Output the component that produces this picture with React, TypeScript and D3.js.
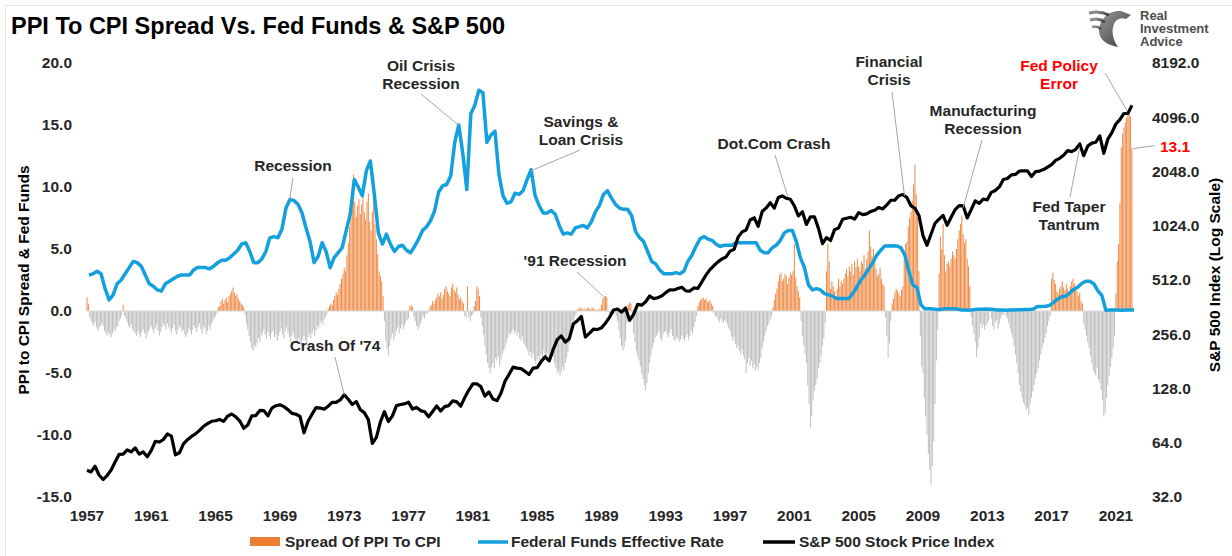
import React from "react";
import * as d3 from "d3";

// ---------------- DATA ----------------
const xTickYears = [1957, 1961, 1965, 1969, 1973, 1977, 1981, 1985, 1989, 1993, 1997, 2001, 2005, 2009, 2013, 2017, 2021];
const leftTicks = [20, 15, 10, 5, 0, -5, -10, -15];
const rightTicks = [8192, 4096, 2048, 1024, 512, 256, 128, 64, 32];

// Spread of PPI to CPI (YoY, %), monthly from Jan 1957
const spreadRows: number[][] = [
  [1.1, 0.6, -0.5, -0.8, -1.0, -1.2, -0.9, -1.3, -1.6, -1.4, -1.2, -1.0],
  [-1.2, -1.6, -1.8, -2.0, -1.7, -1.9, -2.1, -1.8, -1.5, -1.7, -1.3, -1.2],
  [-0.8, -0.6, -0.3, 0.5, -0.4, -0.6, -0.9, -1.2, -1.4, -1.1, -1.5, -1.7],
  [-1.8, -2.0, -1.6, -1.9, -2.1, -1.7, -1.5, -1.8, -2.2, -1.9, -1.6, -1.4],
  [-1.2, -1.5, -1.8, -1.4, -1.1, -1.6, -2.0, -1.7, -1.3, -1.0, -1.2, -1.5],
  [-1.0, -1.3, -1.5, -1.8, -1.4, -1.1, -1.6, -1.9, -1.5, -1.2, -1.4, -1.7],
  [-1.5, -1.9, -2.1, -1.8, -1.4, -1.6, -1.9, -1.5, -1.2, -1.4, -1.7, -1.3],
  [-1.0, -1.5, -1.8, -1.2, -1.4, -1.9, -1.6, -1.2, -1.5, -1.0, -0.8, -0.6],
  [-0.4, -0.2, 0.3, 0.4, 0.8, 1.0, 0.6, 0.9, 1.1, 0.7, 1.2, 1.4],
  [1.6, 1.9, 1.5, 1.2, 1.4, 1.0, 0.8, 0.6, 0.5, 0.3, -0.3, -1.0],
  [-1.5, -2.0, -2.5, -3.0, -3.2, -2.8, -2.9, -2.6, -2.2, -2.5, -2.0, -1.8],
  [-1.5, -1.9, -2.2, -1.7, -2.0, -2.3, -1.8, -1.6, -2.1, -1.9, -2.4, -2.0],
  [-1.7, -1.4, -1.9, -2.2, -1.6, -1.3, -1.8, -2.1, -2.5, -2.0, -1.7, -2.2],
  [-2.4, -2.7, -2.2, -2.5, -2.8, -2.3, -2.0, -2.4, -2.6, -2.1, -1.8, -2.2],
  [-1.8, -1.5, -2.0, -1.6, -1.2, -1.4, -1.0, -0.8, -1.1, -0.7, -0.5, -0.3],
  [0.2, 0.4, 0.6, 0.5, 0.9, 1.2, 1.5, 1.3, 1.8, 2.2, 2.6, 3.0],
  [3.5, 3.2, 4.5, 5.5, 6.8, 7.5, 8.2, 11.0, 8.8, 7.6, 8.5, 9.0],
  [7.8, 8.6, 9.2, 8.0, 7.4, 8.8, 9.5, 7.2, 6.5, 8.0, 11.0, 7.0],
  [5.8, 4.6, 3.2, 2.8, 2.4, 1.2, -0.8, -2.4, -3.0, -3.6, -2.8, -2.2],
  [-1.8, -2.4, -2.0, -1.6, -1.3, -1.8, -1.4, -1.1, -1.5, -1.2, -0.9, -0.7],
  [-0.6, 0.4, 0.5, 0.3, -0.5, -0.8, -1.2, -1.5, -1.3, -1.0, -0.7, -0.4],
  [-0.6, -0.3, -0.2, -0.1, 0.3, 0.5, 0.8, 0.6, 0.9, 1.1, 1.4, 1.2],
  [1.5, 1.0, 1.3, 1.8, 2.0, 1.6, 1.4, 1.2, 1.9, 2.2, 1.7, 1.5],
  [1.9, 1.3, 0.9, 1.1, 0.8, 0.6, -0.4, -0.6, 2.0, -0.5, -0.8, -0.4],
  [-0.3, 0.4, 0.8, 2.0, 1.8, 1.2, -0.5, -1.2, -1.9, -2.8, -3.5, -4.2],
  [-4.6, -5.0, -4.5, -4.2, -4.6, -3.8, -4.0, -3.6, -4.4, -3.9, -3.5, -3.2],
  [-3.0, -2.6, -2.2, -1.8, -1.9, -1.7, -1.5, -1.8, -1.6, -2.0, -1.7, -2.2],
  [-2.4, -2.0, -2.6, -2.8, -3.0, -3.2, -3.6, -3.3, -3.8, -3.4, -4.0, -4.3],
  [-3.9, -3.6, -4.1, -3.5, -3.8, -3.2, -3.6, -3.9, -3.4, -3.7, -3.2, -3.5],
  [-3.7, -4.2, -4.6, -5.0, -4.8, -5.2, -4.9, -4.5, -4.8, -4.2, -3.8, -3.3],
  [-2.6, -1.8, -1.2, -0.8, -0.5, -0.3, 0.1, 0.2, 0.3, 0.2, 0.1, 0.2],
  [0.1, 0.2, 0.3, 0.2, 0.1, 0.3, 0.2, 0.1, 0.1, -0.1, 0.2, 0.1],
  [0.5, 1.0, 1.2, 1.2, 1.1, -0.1, -0.2, -0.3, -0.2, -0.3, -0.2, -0.4],
  [-0.8, -1.5, -2.2, -2.8, -3.2, -2.9, -2.4, -1.0, 0.5, 0.7, 0.6, -0.5],
  [-1.8, -2.5, -3.2, -3.6, -4.0, -4.5, -5.0, -5.5, -6.0, -6.4, -5.8, -5.0],
  [-4.2, -3.6, -3.0, -2.6, -2.2, -2.0, -1.8, -1.6, -2.2, -2.4, -1.9, -1.7],
  [-1.6, -1.9, -2.1, -1.8, -1.5, -2.0, -2.3, -2.4, -2.1, -2.2, -2.5, -2.3],
  [-2.0, -2.2, -2.4, -2.1, -1.9, -2.3, -2.0, -1.6, -1.8, -1.3, -0.9, -0.4],
  [0.4, 0.7, 0.9, 1.0, 1.1, 0.9, 1.0, 0.8, 0.7, 0.9, 0.6, 0.4],
  [-0.2, -0.5, -0.4, -0.7, -0.9, -0.6, -0.8, -1.0, -0.7, -0.9, -1.1, -1.4],
  [-1.6, -2.0, -2.4, -2.1, -2.7, -3.0, -2.8, -3.2, -3.5, -3.1, -3.6, -3.9],
  [-5.0, -4.2, -3.8, -4.4, -4.0, -4.6, -4.3, -4.8, -4.5, -4.7, -4.2, -3.8],
  [-3.0, -2.5, -2.0, -1.6, -1.2, -1.0, -0.7, -0.4, 0.3, 0.9, 1.4, 1.8],
  [2.4, 2.9, 3.1, 2.4, 2.6, 3.0, 2.8, 2.2, 2.7, 3.1, 2.9, 3.2],
  [5.4, 2.7, 2.0, 1.6, 1.1, -0.8, -2.0, -2.8, -3.5, -4.2, -6.0, -7.5],
  [-9.4, -8.5, -7.2, -6.4, -6.0, -5.5, -4.6, -4.2, -3.6, -2.8, -2.2, -1.0],
  [3.2, 5.4, 4.0, 1.8, 2.4, 2.0, 1.6, 1.2, 1.8, 2.6, 2.0, 2.4],
  [2.2, 2.6, 3.0, 3.4, 2.8, 3.6, 3.2, 3.8, 2.9, 4.0, 3.5, 4.2],
  [3.6, 3.2, 4.0, 3.8, 4.5, 3.4, 4.2, 4.8, 6.5, 5.2, 4.4, 5.0],
  [4.0, 3.4, 2.8, 3.0, 3.5, 2.6, 2.2, 2.0, -0.5, -2.0, -3.8, -2.6],
  [-0.8, 0.6, 1.0, 1.5, 1.8, 1.6, 1.4, 1.2, 1.7, 2.0, 4.2, 5.4],
  [5.6, 6.8, 7.5, 8.0, 8.9, 10.2, 11.8, 9.4, 7.6, 3.2, -2.0, -4.5],
  [-5.0, -7.0, -8.5, -10.0, -11.5, -12.8, -14.0, -12.5, -10.5, -7.5, -4.0, -1.5],
  [3.0, 6.0, 5.0, 7.0, 4.5, 3.2, 3.8, 4.0, 3.6, 4.2, 4.8, 4.5],
  [4.2, 5.0, 5.8, 6.5, 7.0, 7.7, 6.2, 5.5, 5.8, 4.2, 3.6, 2.0],
  [-0.5, -1.2, -1.8, -2.5, -3.7, -3.0, -2.2, -1.0, -1.4, -1.1, -1.5, -1.2],
  [-1.0, -0.8, 0.3, -0.6, -1.2, -1.5, -0.9, -0.7, -1.4, -1.0, -0.6, -0.3],
  [-0.3, 0.2, -0.4, -0.6, -1.0, -1.4, -1.8, -2.2, -2.8, -3.5, -4.2, -5.0],
  [-6.0, -6.5, -7.0, -7.4, -7.6, -8.0, -7.8, -8.4, -7.5, -7.0, -6.5, -6.0],
  [-5.4, -5.0, -4.6, -4.0, -3.5, -3.0, -2.6, -2.2, -1.8, -1.2, -0.8, -0.4],
  [2.6, 3.1, 2.5, 2.2, 1.6, 1.4, 1.8, 2.0, 2.4, 1.9, 1.6, 2.2],
  [1.8, 1.5, 2.0, 2.4, 2.6, 2.2, 2.0, 1.6, 1.2, 1.5, 0.8, 0.6],
  [-1.0, -1.5, -2.0, -2.5, -3.0, -3.6, -4.2, -4.8, -5.0, -5.2, -4.6, -5.5],
  [-5.8, -6.4, -7.2, -8.5, -8.2, -7.0, -6.0, -5.2, -4.5, -3.8, -3.0, -2.0],
  [1.4, 4.0, 5.4, 8.7, 13.2, 14.3, 14.8, 15.2, 15.6, 15.9, 15.9, 15.7],
  [13.1],
];
const spreadValues: number[] = spreadRows.flat();

// Federal Funds Effective Rate, quarterly averages from 1957 Q1
const fedFunds: number[] = [
  2.9, 3.0, 3.2, 3.0, 1.8, 0.9, 1.3, 2.2, 2.5, 3.0, 3.5, 4.0, 3.9, 3.6, 2.9, 2.2,
  2.0, 1.7, 1.6, 2.2, 2.4, 2.6, 2.8, 2.9, 2.9, 2.9, 3.3, 3.5, 3.5, 3.5, 3.4, 3.6,
  3.9, 4.1, 4.1, 4.3, 4.6, 4.9, 5.4, 5.5, 4.8, 3.9, 3.9, 4.2, 4.8, 5.9, 6.0, 5.9,
  6.6, 8.3, 9.0, 8.9, 8.6, 7.9, 6.7, 5.6, 3.9, 4.4, 5.5, 4.8, 3.5, 4.3, 4.7, 5.1,
  6.5, 7.8, 10.6, 10.0, 9.3, 11.3, 12.1, 9.4, 6.3, 5.4, 6.2, 5.4, 4.8, 5.2, 5.3, 4.9,
  4.7, 5.2, 5.8, 6.5, 6.8, 7.3, 8.1, 9.6, 10.1, 10.2, 10.9, 13.6, 15.0, 12.7, 9.8, 15.9,
  16.6, 17.8, 17.6, 13.6, 14.2, 14.5, 11.0, 9.3, 8.7, 8.8, 9.5, 9.4, 9.7, 10.6, 11.4, 9.3,
  8.5, 7.9, 7.9, 8.1, 7.8, 6.9, 6.2, 6.3, 6.2, 6.7, 6.8, 6.9, 6.7, 7.2, 8.0, 8.5,
  9.4, 9.7, 9.1, 8.6, 8.3, 8.2, 8.2, 7.7, 6.4, 5.9, 5.6, 4.8, 4.0, 3.8, 3.3, 3.0,
  3.0, 3.0, 3.1, 3.0, 3.2, 4.0, 4.5, 5.2, 5.8, 6.0, 5.8, 5.7, 5.4, 5.2, 5.3, 5.3,
  5.3, 5.5, 5.5, 5.5, 5.5, 5.5, 5.5, 4.9, 4.7, 4.7, 5.1, 5.3, 5.7, 6.3, 6.5, 6.5,
  5.6, 4.3, 3.5, 2.1, 1.7, 1.8, 1.7, 1.4, 1.3, 1.2, 1.0, 1.0, 1.0, 1.0, 1.4, 1.9,
  2.5, 2.9, 3.4, 3.9, 4.5, 4.9, 5.25, 5.25, 5.26, 5.25, 5.1, 4.5, 3.2, 2.1, 1.9, 0.5,
  0.18, 0.18, 0.16, 0.12, 0.13, 0.19, 0.19, 0.19, 0.16, 0.09, 0.08, 0.07, 0.1, 0.15, 0.14, 0.16,
  0.14, 0.12, 0.08, 0.09, 0.07, 0.09, 0.09, 0.1, 0.11, 0.13, 0.13, 0.16, 0.36, 0.37, 0.39, 0.45,
  0.7, 0.95, 1.15, 1.2, 1.45, 1.74, 1.92, 2.22, 2.4, 2.4, 2.2, 1.64, 1.26, 0.06, 0.09, 0.09,
  0.08, 0.07, 0.09, 0.08, 0.08,
];

// S&P 500 index: level at start (Jan 1957), then quarter-end closes
const sp500Start = 45;
const sp500: number[] = [
  44.1, 47.4, 42.4, 40.0, 42.1, 45.2, 50.1, 55.2, 55.4, 58.5, 56.9, 59.9, 55.3, 56.9, 53.5, 58.1,
  65.1, 64.6, 66.7, 71.6, 69.6, 54.8, 56.3, 63.1, 66.6, 69.4, 71.7, 75.0, 79.0, 81.7, 84.2, 84.8,
  86.2, 84.1, 90.0, 92.4, 89.2, 84.7, 77.0, 80.3, 90.2, 90.6, 96.7, 96.5, 90.2, 99.6, 102.7, 103.9,
  101.5, 97.7, 93.1, 92.1, 89.6, 72.7, 84.2, 92.2, 100.3, 99.7, 98.3, 102.1, 107.2, 107.1, 110.6, 118.1,
  111.5, 104.3, 108.4, 97.6, 94.0, 86.0, 63.5, 68.6, 83.4, 95.2, 83.9, 90.2, 102.8, 104.3, 105.2, 107.5,
  98.4, 100.5, 96.5, 95.1, 89.2, 95.5, 102.5, 96.1, 101.6, 102.9, 109.3, 107.9, 102.1, 114.2, 125.5, 135.8,
  136.0, 131.2, 116.2, 122.6, 112.0, 109.6, 120.4, 140.6, 153.0, 168.1, 166.1, 164.9, 159.2, 153.2, 166.1, 167.2,
  180.7, 191.9, 182.1, 211.3, 238.9, 250.8, 231.3, 242.2, 291.7, 304.0, 321.8, 247.1, 258.9, 273.5, 271.9, 277.7,
  294.9, 318.0, 349.2, 353.4, 339.9, 358.0, 306.1, 330.2, 375.2, 371.2, 387.9, 417.1, 403.7, 408.1, 417.8, 435.7,
  451.7, 450.5, 458.9, 466.5, 445.8, 444.3, 462.7, 459.3, 500.7, 544.8, 584.4, 615.9, 645.5, 670.6, 687.3, 740.7,
  757.1, 885.1, 947.3, 970.4, 1101.8, 1133.8, 1017.0, 1229.2, 1286.4, 1372.7, 1282.7, 1469.3, 1498.6, 1454.6, 1436.5, 1320.3,
  1160.3, 1224.4, 1040.9, 1148.1, 1147.4, 989.8, 815.3, 879.8, 848.2, 974.5, 996.0, 1111.9, 1126.2, 1140.8, 1114.6, 1211.9,
  1180.6, 1191.3, 1228.8, 1248.3, 1294.8, 1270.2, 1335.9, 1418.3, 1420.9, 1503.4, 1526.8, 1468.4, 1322.7, 1280.0, 1166.4, 903.3,
  797.9, 919.3, 1057.1, 1115.1, 1169.4, 1030.7, 1141.2, 1257.6, 1325.8, 1320.6, 1131.4, 1257.6, 1408.5, 1362.2, 1440.7, 1426.2,
  1569.2, 1606.3, 1681.6, 1848.4, 1872.3, 1960.2, 1972.3, 2058.9, 2067.9, 2063.1, 1920.0, 2043.9, 2059.7, 2098.9, 2168.3, 2238.8,
  2362.7, 2423.4, 2519.4, 2673.6, 2640.9, 2718.4, 2914.0, 2506.9, 2834.4, 2941.8, 2976.7, 3230.8, 2584.6, 3100.3, 3363.0, 3756.1,
  3972.9, 4297.5, 4307.5, 4766.2,
];

const seriesNames = ["Spread Of PPI To CPI", "Federal Funds Effective Rate", "S&P 500 Stock Price Index"];

// ---------------- STYLE ----------------
const FONT = "'Liberation Sans', Arial, Helvetica, sans-serif";
const ORANGE = "#ED7D31";
const GRAY_BAR = "#BFBFBF";
const BLUE = "#14A0DC";
const RED = "#FF0000";
const LEADER = "#A6A6A6";

export default function App() {
  const W = 1232, H = 556;
  const x = d3.scaleLinear().domain([1957, 2022.5]).range([87, 1140]);
  const yL = d3.scaleLinear().domain([-15, 20]).range([497, 63]);
  const yR = d3.scaleLog().base(2).domain([32, 8192]).range([497, 63]);

  const y0 = yL(0);

  const ffPts = fedFunds.map((v, i) => [1957 + i / 4 + 0.125, v] as [number, number]);
  const spPts: [number, number][] = [[1957, sp500Start], ...sp500.map((v, i) => [1957 + (i + 1) / 4, v] as [number, number])];

  const ffLine = d3.line<[number, number]>().x(d => x(d[0])).y(d => yL(d[1]));
  const spLine = d3.line<[number, number]>().x(d => x(d[0])).y(d => yR(d[1]));

  const lastIdx = spreadValues.length - 1;
  const lastT = 1957 + lastIdx / 12;
  const lastV = spreadValues[lastIdx];

  type Ann = { lines: string[]; tx: number; ty: number; color?: string; from: [number, number]; to: [number, number]; anchor?: string };
  const anns: Ann[] = [
    { lines: ["Recession"], tx: 293, ty: 171, from: [293, 178], to: [x(1969.6), yL(9.0)] },
    { lines: ["Oil Crisis", "Recession"], tx: 421, ty: 71, from: [421, 94], to: [x(1980.1), yL(15.0)] },
    { lines: ["Savings &", "Loan Crisis"], tx: 581, ty: 127, from: [580, 150], to: [x(1984.6), yL(11.3)] },
    { lines: ["Dot.Com Crash"], tx: 774, ty: 149, from: [775, 155], to: [x(2000.6), yR(1480)] },
    { lines: ["'91 Recession"], tx: 575, ty: 266, from: [577, 272], to: [x(1989.1), yL(1.2)] },
    { lines: ["Crash Of '74"], tx: 335, ty: 351, from: [335, 357], to: [x(1973.0), yR(118)] },
    { lines: ["Financial", "Crisis"], tx: 889, ty: 67, from: [892, 92], to: [x(2007.85), yR(1500)] },
    { lines: ["Manufacturing", "Recession"], tx: 983, ty: 116, from: [982, 140], to: [x(2011.5), yR(1290)] },
    { lines: ["Fed Policy", "Error"], tx: 1059, ty: 71, color: RED, from: [1105, 73], to: [x(2021.7), yR(4450)] },
    { lines: ["Fed Taper", "Tantrum"], tx: 1069, ty: 212, from: [1070, 197], to: [x(2018.75), yR(2800)] },
  ];

  const fs = 15.5;

  return (
    <svg width={W} height={H} style={{ position: "absolute", left: 0, top: 0, background: "#fff" }} fontFamily={FONT}>
      <defs>
        <linearGradient id="eagleGrad" x1="0" y1="0" x2="1" y2="1">
          <stop offset="0%" stopColor="#9a9a9a" />
          <stop offset="100%" stopColor="#3a3a3a" />
        </linearGradient>
      </defs>
      <rect x={0} y={0} width={W} height={H} fill="#fff" />
      {/* frame */}
      <line x1={5.5} y1={5.5} x2={W} y2={5.5} stroke="#e3e3e3" strokeWidth={1} />
      <line x1={5.5} y1={5.5} x2={5.5} y2={H} stroke="#e3e3e3" strokeWidth={1} />

      {/* title */}
      <text x={11} y={34} fontSize={23.5} fontWeight="bold" fill="#000">PPI To CPI Spread Vs. Fed Funds &amp; S&amp;P 500</text>

      {/* logo */}
      <g>
        <path d="M1099,31 C1099,19 1109,10 1121,11 L1131,15 L1126,19 C1121,17 1116,19 1114,24 C1111,31 1113,40 1118,47 C1106,45 1099,39 1099,31 Z" fill="url(#eagleGrad)" />
        <path d="M1089,13 C1097,11 1103,12 1109,15" stroke="url(#eagleGrad)" strokeWidth={3} fill="none" />
        <path d="M1090,20 C1096,18 1101,19 1105,22" stroke="url(#eagleGrad)" strokeWidth={3} fill="none" />
        <path d="M1092,27 C1096,26 1099,27 1101,29" stroke="url(#eagleGrad)" strokeWidth={2.5} fill="none" />
        <text x={1140} y={20} fontSize={13} fontWeight="bold" fill="#4d4d4d">Real</text>
        <text x={1140} y={33} fontSize={13} fontWeight="bold" fill="#4d4d4d">Investment</text>
        <text x={1140} y={46} fontSize={13} fontWeight="bold" fill="#4d4d4d">Advice</text>
      </g>

      {/* bars */}
      <g>
        {spreadValues.map((v, i) => {
          const xx = x(1957 + i / 12);
          const yy = yL(v);
          return (
            <rect key={i} x={xx - 0.5} width={1} y={Math.min(yy, y0)} height={Math.abs(yy - y0)}
              fill={v >= 0 ? ORANGE : GRAY_BAR} fillOpacity={v >= 0 ? 0.9 : 1} />
          );
        })}
      </g>
      <line x1={x(1957)} x2={x(lastT) + 1} y1={y0} y2={y0} stroke="#D9D9D9" strokeWidth={1} />

      {/* lines */}
      <path d={ffLine(ffPts) || ""} fill="none" stroke={BLUE} strokeWidth={3.5} strokeLinejoin="round" />
      <path d={spLine(spPts) || ""} fill="none" stroke="#000" strokeWidth={3.2} strokeLinejoin="round" />

      {/* left axis */}
      {leftTicks.map(t => (
        <text key={t} x={72} y={yL(t)} dy="0.35em" textAnchor="end" fontSize={fs} fontWeight="bold" fill="#262626">{t.toFixed(1)}</text>
      ))}
      <text transform={`translate(24,280) rotate(-90)`} textAnchor="middle" dy="0.35em" fontSize={fs} fontWeight="bold" fill="#000">PPI to CPI Spread &amp; Fed Funds</text>

      {/* right axis */}
      {rightTicks.map(t => (
        <text key={t} x={1152} y={yR(t)} dy="0.35em" textAnchor="start" fontSize={fs} fontWeight="bold" fill="#262626">{t.toFixed(1)}</text>
      ))}
      <text transform={`translate(1215,275) rotate(-90)`} textAnchor="middle" dy="0.35em" fontSize={fs} fontWeight="bold" fill="#000">S&amp;P 500 Index (Log Scale)</text>

      {/* x axis */}
      {xTickYears.map(yv => (
        <text key={yv} x={x(yv)} y={521} textAnchor="middle" fontSize={fs} fontWeight="bold" fill="#262626">{yv}</text>
      ))}

      {/* annotations */}
      {anns.map((a, i) => (
        <g key={i}>
          <line x1={a.from[0]} y1={a.from[1]} x2={a.to[0]} y2={a.to[1]} stroke={LEADER} strokeWidth={1} />
          {a.lines.map((l, j) => (
            <text key={j} x={a.tx} y={a.ty + j * 18} textAnchor="middle" fontSize={fs} fontWeight="bold" fill={a.color || "#262626"}>{l}</text>
          ))}
        </g>
      ))}
      {/* last value label */}
      <line x1={x(lastT) + 1} y1={yL(lastV)} x2={1155} y2={yL(lastV) - 3} stroke={LEADER} strokeWidth={1} />
      <text x={1160} y={yL(lastV) + 3} fontSize={fs} fontWeight="bold" fill={RED}>{lastV.toFixed(1)}</text>

      {/* legend */}
      <rect x={250} y={537} width={30} height={9} fill={ORANGE} />
      <text x={285} y={547} fontSize={fs} fontWeight="bold" fill="#262626">{seriesNames[0]}</text>
      <line x1={478} x2={508} y1={542} y2={542} stroke={BLUE} strokeWidth={3.5} />
      <text x={511} y={547} fontSize={fs} fontWeight="bold" fill="#262626">{seriesNames[1]}</text>
      <line x1={763} x2={795} y1={542} y2={542} stroke="#000" strokeWidth={3.5} />
      <text x={799} y={547} fontSize={fs} fontWeight="bold" fill="#262626">{seriesNames[2]}</text>
    </svg>
  );
}
